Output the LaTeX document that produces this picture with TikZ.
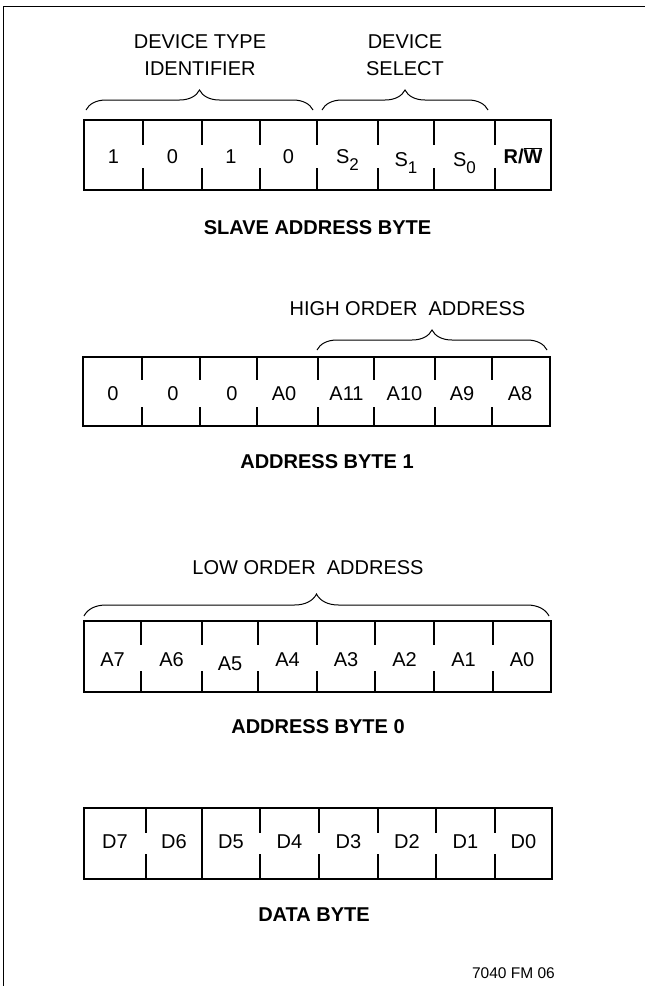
\documentclass[tikz,border=0pt]{standalone}
\usepackage{fontspec}
\setmainfont{Liberation Sans}
\usetikzlibrary{decorations.pathreplacing}

\newcommand{\lowdigit}[1]{\raisebox{-7pt}{\fontsize{17}{17}\selectfont #1}}

\begin{document}
\begin{tikzpicture}[x=1pt, y=-1pt,
   bit/.style={anchor=base, inner sep=0, font=\fontsize{20}{24}\selectfont},
   caption/.style={anchor=base, inner sep=0, font=\bfseries\fontsize{20}{24}\selectfont},
   field/.style={anchor=south, inner sep=0, align=center, font=\fontsize{20}{27}\selectfont},
   byte/.style={line width=2.7pt},
   divider/.style={line width=1.3pt},
   brace/.style={decorate, decoration={brace, amplitude=20pt}, line width=1pt}]
   \useasboundingbox (0,0) rectangle (645,986);
   \draw[line width=1.5pt] (3.3,986) -- (3.3,6.5) -- (645,6.5);

   % slave address byte
   \node (devtype) at (200,76) [field] {DEVICE TYPE\\IDENTIFIER};
   \node (devsel) at (405,76) [field] {DEVICE\\SELECT};
   \draw[brace] (86,110) -- (313,110);
   \draw[brace] (322,110) -- (488,110);
   \draw[byte] (84,120) rectangle (551,190);
   \draw[divider] (143,120) -- +(0,25) (143,190) -- +(0,-22)
      (202,120) -- +(0,25) (202,190) -- +(0,-22)
      (260,120) -- +(0,25) (260,190) -- +(0,-22)
      (317,120) -- +(0,25) (317,190) -- +(0,-22)
      (378,120) -- +(0,25) (378,190) -- +(0,-22)
      (434,120) -- +(0,25) (434,190) -- +(0,-22)
      (495,120) -- +(0,25) (495,190) -- +(0,-22);
   \node (s7) at (113.5,163) [bit] {1};
   \node (s6) at (172.5,163) [bit] {0};
   \node (s5) at (231,163) [bit] {1};
   \node (s4) at (288.5,163) [bit] {0};
   \node (s3) at (347.5,163) [bit] {S\lowdigit{2}};
   \node (s2) at (406,166) [bit] {S\lowdigit{1}};
   \node (s1) at (464.5,166) [bit] {S\lowdigit{0}};
   \node (s0) at (523,163) [bit] {\textbf{R/$\overline{\mbox{W}}$}};
   \node (slavelbl) at (317.5,234) [caption] {SLAVE ADDRESS BYTE};

   % address byte 1
   \node (highord) at (407.5,315) [bit] {HIGH ORDER\ \ ADDRESS};
   \draw[brace] (317,350) -- (547,350);
   \draw[byte] (83,357) rectangle (550,426);
   \draw[divider] (142,357) -- +(0,23) (142,426) -- +(0,-19)
      (200,357) -- +(0,23) (200,426) -- +(0,-19)
      (257,357) -- +(0,23) (257,426) -- +(0,-19)
      (318,357) -- +(0,23) (318,426) -- +(0,-19)
      (374,357) -- +(0,23) (374,426) -- +(0,-19)
      (435,357) -- +(0,23) (435,426) -- +(0,-19)
      (492,357) -- +(0,23) (492,426) -- +(0,-19);
   \node (ah7) at (113,400) [bit] {0};
   \node (ah6) at (173,400) [bit] {0};
   \node (ah5) at (232,400) [bit] {0};
   \node (ah4) at (284,400) [bit] {A0};
   \node (ah3) at (346.5,400) [bit] {A11};
   \node (ah2) at (404.5,400) [bit] {A10};
   \node (ah1) at (462,400) [bit] {A9};
   \node (ah0) at (520,400) [bit] {A8};
   \node (adr1lbl) at (327,468) [caption] {ADDRESS BYTE 1};

   % address byte 0
   \node (loword) at (308,574) [bit] {LOW ORDER\ \ ADDRESS};
   \draw[brace, decoration={amplitude=22pt}] (84,616) -- (549,616);
   \draw[byte] (84,621) rectangle (551,692);
   \draw[divider] (141,621) -- +(0,24) (141,692) -- +(0,-21)
      (202,621) -- +(0,24) (202,692) -- +(0,-21)
      (258,621) -- +(0,24) (258,692) -- +(0,-21)
      (317,621) -- +(0,24) (317,692) -- +(0,-21)
      (375,621) -- +(0,24) (375,692) -- +(0,-21)
      (434,621) -- +(0,24) (434,692) -- +(0,-21)
      (493,621) -- +(0,24) (493,692) -- +(0,-21);
   \node (al7) at (112.5,666) [bit] {A7};
   \node (al6) at (171.5,666) [bit] {A6};
   \node (al5) at (230,670) [bit] {A5};
   \node (al4) at (287.5,666) [bit] {A4};
   \node (al3) at (346,666) [bit] {A3};
   \node (al2) at (404.5,666) [bit] {A2};
   \node (al1) at (463.5,666) [bit] {A1};
   \node (al0) at (522,666) [bit] {A0};
   \node (adr0lbl) at (318,733) [caption] {ADDRESS BYTE 0};

   % data byte
   \draw[byte] (84,808) rectangle (552,879);
   \draw[divider] (146,808) -- +(0,25) (146,879) -- +(0,-25)
      (202,808) -- (202,879)
      (260,808) -- +(0,25) (260,879) -- +(0,-25)
      (319,808) -- +(0,25) (319,879) -- +(0,-25)
      (378,808) -- +(0,25) (378,879) -- +(0,-25)
      (436,808) -- +(0,25) (436,879) -- +(0,-25)
      (495,808) -- +(0,25) (495,879) -- +(0,-25);
   \node (d7) at (115,848) [bit] {D7};
   \node (d6) at (174,848) [bit] {D6};
   \node (d5) at (231,848) [bit] {D5};
   \node (d4) at (289.5,848) [bit] {D4};
   \node (d3) at (348.5,848) [bit] {D3};
   \node (d2) at (407,848) [bit] {D2};
   \node (d1) at (465.5,848) [bit] {D1};
   \node (d0) at (523.5,848) [bit] {D0};
   \node (datalbl) at (314,921) [caption] {DATA BYTE};

   \node (figno) at (555,978) [anchor=base east, inner sep=0, font=\fontsize{15.5}{18}\selectfont] {7040 FM 06};
\end{tikzpicture}
\end{document}
